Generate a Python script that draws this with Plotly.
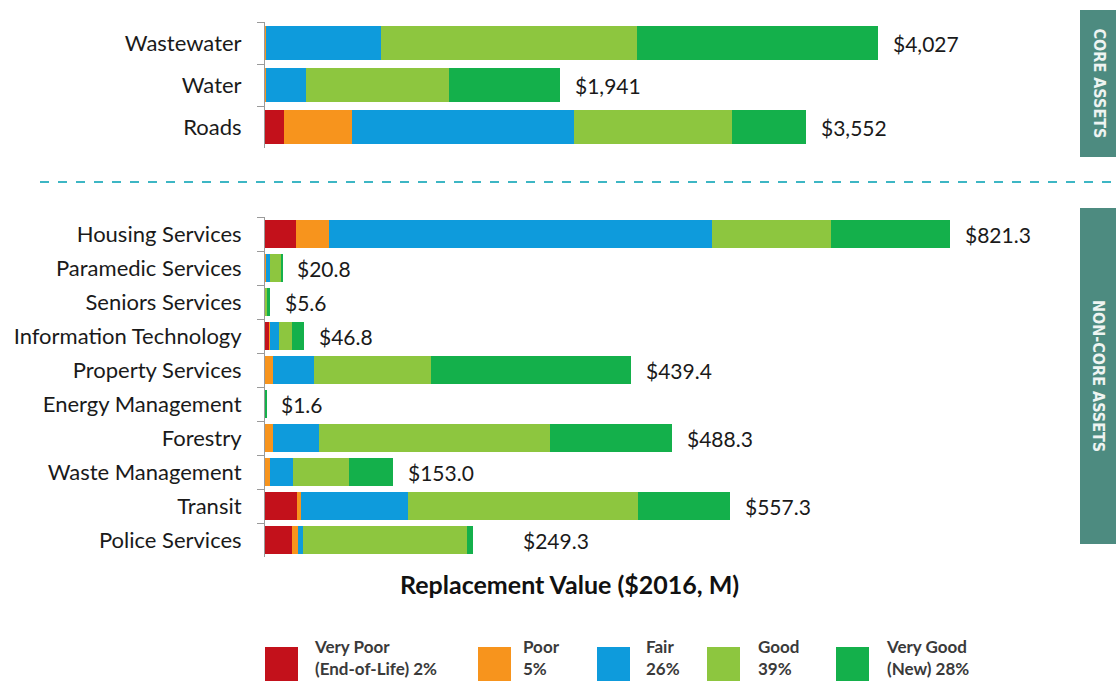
import plotly.graph_objects as go

W, H = 1116, 681

# core assets ($M)
core_names = ['Wastewater', 'Water', 'Roads']
core_total = [4027, 1941, 3552]
core_very_poor = [0, 0, 125]
core_poor = [6, 5, 447]
core_fair = [755, 263, 1459]
core_good = [1682, 940, 1035]
core_very_good = [1584, 733, 486]

# non-core assets ($M)
nc_names = ['Housing Services', 'Paramedic Services', 'Seniors Services',
            'Information Technology', 'Property Services', 'Energy Management',
            'Forestry', 'Waste Management', 'Transit', 'Police Services']
nc_total = [821.3, 20.8, 5.6, 46.8, 439.4, 1.6, 488.3, 153.0, 557.3, 249.3]
nc_very_poor = [37.2, 0.8, 0, 4.8, 0, 0, 0, 0, 38.7, 32.0]
nc_poor = [39.6, 0.2, 0, 1.0, 9.6, 0, 10.0, 6.0, 4.0, 7.2]
nc_fair = [459.0, 5.0, 0, 11.2, 49.2, 0, 54.8, 27.6, 129.0, 6.4]
nc_good = [142.7, 13.8, 2.0, 15.0, 140.3, 0.4, 277.0, 67.1, 275.4, 197.0]
nc_very_good = [142.8, 1.0, 3.6, 14.8, 240.3, 1.2, 146.5, 52.3, 110.2, 6.7]

legend_labels = ['Very Poor<br>(End-of-Life) 2%', 'Poor<br>5%', 'Fair<br>26%',
                 'Good<br>39%', 'Very Good<br>(New) 28%']
colors = ['#c3111b', '#f7941d', '#0e9bdc', '#8dc63f', '#14b04b']

core_series = [core_very_poor, core_poor, core_fair, core_good, core_very_good]
nc_series = [nc_very_poor, nc_poor, nc_fair, nc_good, nc_very_good]

FONT = 'Lato, Open Sans, sans-serif'


def px(x):
    return x / W


def py(y):
    return 1 - y / H


fig = go.Figure()
for vals, col in zip(core_series, colors):
    fig.add_trace(go.Bar(y=core_names, x=vals, orientation='h', marker_color=col,
                         marker_line_width=0, xaxis='x', yaxis='y', showlegend=False))
for vals, col in zip(nc_series, colors):
    fig.add_trace(go.Bar(y=nc_names, x=vals, orientation='h', marker_color=col,
                         marker_line_width=0, xaxis='x2', yaxis='y2', showlegend=False))

yax = dict(type='category', categoryorder='array', autorange='reversed',
           showline=True, linecolor='#9a9a9a', linewidth=1,
           ticks='outside', tickson='boundaries', ticklen=7, tickcolor='#9a9a9a',
           ticklabelstandoff=18, showgrid=False,
           tickfont=dict(family=FONT, size=22, color='#1a1a1a'))
xax = dict(visible=False, showgrid=False, zeroline=False)

fig.update_layout(
    width=W, height=H,
    margin=dict(l=0, r=0, t=0, b=0),
    paper_bgcolor='white', plot_bgcolor='white',
    barmode='stack', bargap=0.19,
    xaxis=dict(xax, domain=[px(265), px(1060)], range=[0, 795 / 0.1522], anchor='y'),
    xaxis2=dict(xax, domain=[px(265), px(1060)], range=[0, 795 / 0.834], anchor='y2'),
    yaxis=dict(yax, domain=[py(148), py(22)], categoryarray=core_names, anchor='x'),
    yaxis2=dict(yax, domain=[py(557), py(217)], categoryarray=nc_names, anchor='x2'),
)

# value labels at bar ends
for name, tot in zip(core_names, core_total):
    fig.add_annotation(x=tot, y=name, xref='x', yref='y', text=f'${tot:,.0f}',
                       showarrow=False, xanchor='left', yanchor='middle', xshift=13,
                       font=dict(family=FONT, size=21, color='#1a1a1a'))
for name, tot in zip(nc_names, nc_total):
    shift = 48 if name == 'Police Services' else 13
    fig.add_annotation(x=tot, y=name, xref='x2', yref='y2', text=f'${tot:,.1f}',
                       showarrow=False, xanchor='left', yanchor='middle', xshift=shift,
                       font=dict(family=FONT, size=21, color='#1a1a1a'))

# axis title
fig.add_annotation(x=px(569), y=py(584), xref='paper', yref='paper',
                   xanchor='center', yanchor='middle',
                   text='<b>Replacement Value ($2016, M)</b>', showarrow=False,
                   font=dict(family=FONT, size=25, color='#111111'))

# dashed separator
fig.add_shape(type='line', xref='paper', yref='paper', x0=px(40), x1=1.0,
              y0=py(182), y1=py(182), line=dict(color='#3db6c4', width=2, dash='dash'))

# side boxes
side = [('CORE ASSETS', 10, 157), ('NON-CORE ASSETS', 208, 544)]
for txt, y0, y1 in side:
    fig.add_shape(type='rect', xref='paper', yref='paper', x0=px(1080), x1=1.0,
                  y0=py(y1), y1=py(y0), fillcolor='#4d8b80', line_width=0)
    fig.add_annotation(x=px(1099), y=py((y0 + y1) / 2), xref='paper', yref='paper',
                       xanchor='center', yanchor='middle',
                       text=f'<b>{txt}</b>', textangle=90, showarrow=False,
                       font=dict(family='DejaVu Sans Condensed, sans-serif',
                                 size=16, color='#eef4f2'))

# custom legend
box_x = [265, 478, 597, 707, 836]
text_x = [312, 521, 644, 756, 884]
for lab, col, bx, tx in zip(legend_labels, colors, box_x, text_x):
    fig.add_shape(type='rect', xref='paper', yref='paper', x0=px(bx), x1=px(bx + 33),
                  y0=py(681), y1=py(647), fillcolor=col, line_width=0)
    fig.add_annotation(x=px(tx), y=0, xref='paper', yref='paper', text=f'<b>{lab}</b>',
                       showarrow=False, xanchor='left', yanchor='bottom', align='left',
                       font=dict(family=FONT, size=17, color='#3a3a3a'))

fig.write_html('out.html', config={'displayModeBar': False},
               post_script="document.body.style.margin='0';")
